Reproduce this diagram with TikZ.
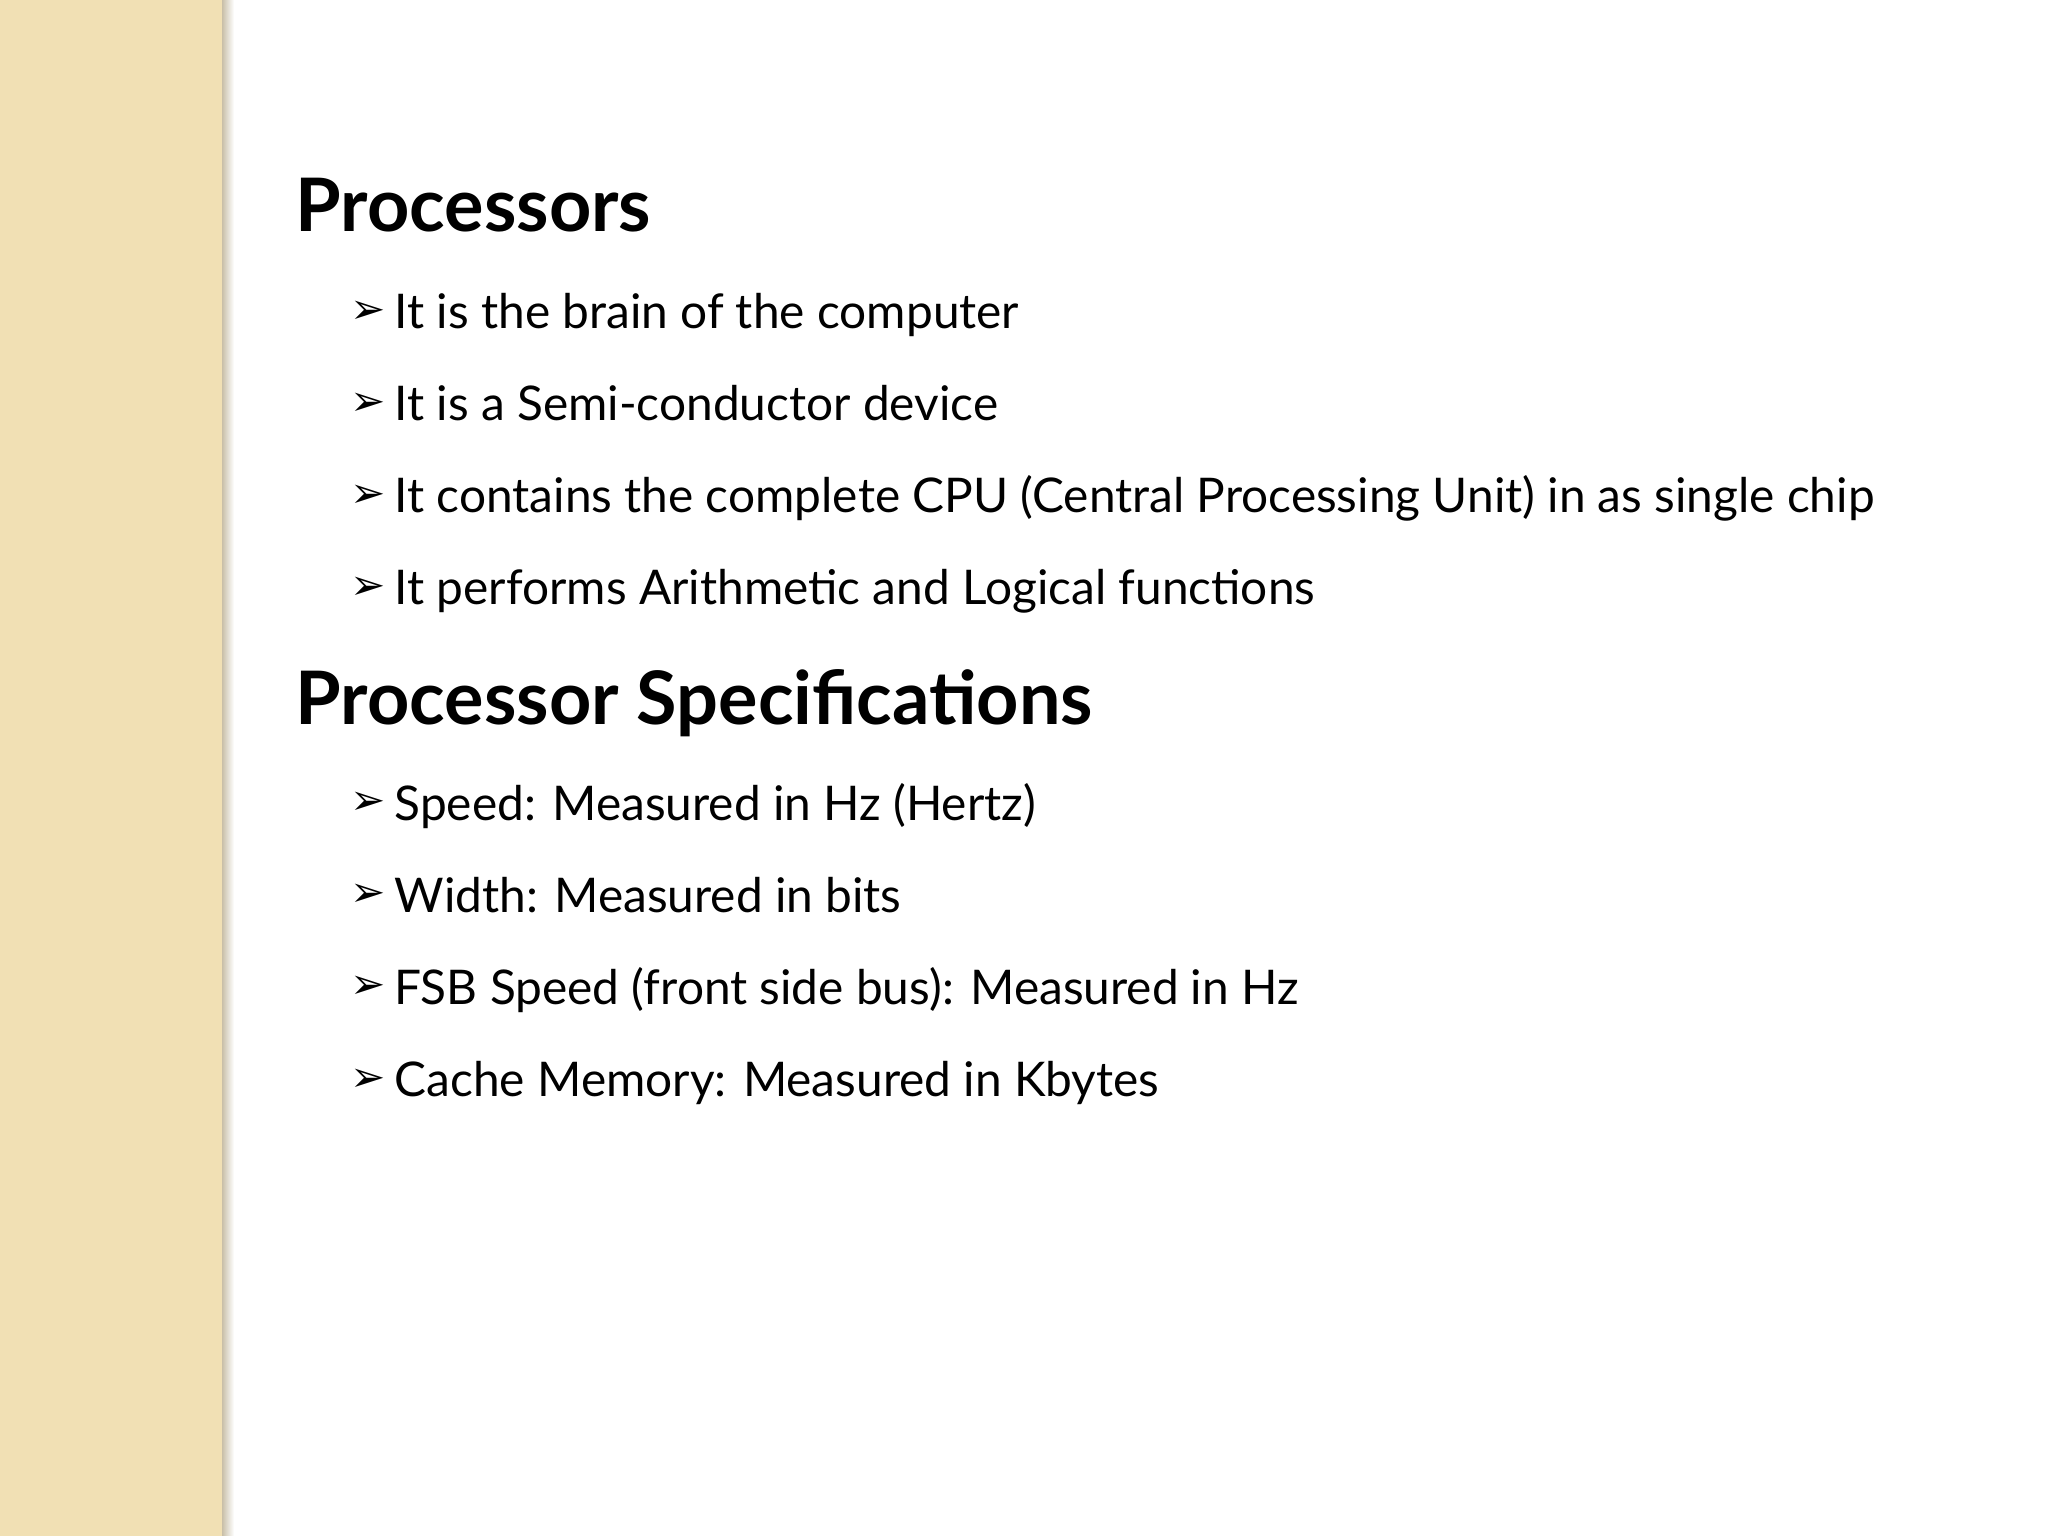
\documentclass[tikz,border=0pt]{standalone}
\usepackage{fontspec}
\setmainfont{Lato}
\newfontfamily\symfont{DejaVu Sans}
\definecolor{band}{HTML}{F1E0B4}
\definecolor{bandshadow}{HTML}{C9BFA8}
\begin{document}
\begin{tikzpicture}[x=1cm,y=1cm,
  head/.style={anchor=base west,inner sep=0pt,font=\fontsize{21}{25}\selectfont\bfseries},
  item/.style={anchor=base west,inner sep=0pt,font=\fontsize{13.6}{16}\selectfont},
  bul/.style={anchor=base west,inner sep=0pt,font=\symfont\fontsize{12}{14}\selectfont}]
\useasboundingbox (0,0) rectangle (20.48,-15.36);
\fill[white] (0,0) rectangle (20.48,-15.36);
\fill[band] (0,0) rectangle (2.22,-15.36);
\shade[left color=bandshadow,right color=white] (2.22,0) rectangle (2.34,-15.36);
\node[head] (h1) at (2.95,-2.32) {Processors};
\foreach \y/\t [count=\i] in {3.29/It is the brain of the computer,
  4.21/It is a Semi-conductor device,
  5.13/It contains the complete CPU (Central Processing Unit) in as single chip,
  6.05/It performs Arithmetic and Logical functions}{
  \node[bul] (b\i) at (3.50,-\y+0.05) {➢};
  \node[item] (t\i) at (3.94,-\y) {\t};
}
\node[head] (h2) at (2.95,-7.25) {Processor Specifications};
\foreach \y/\t [count=\i] in {8.20/Speed: Measured in Hz (Hertz),
  9.12/Width: Measured in bits,
  10.04/FSB Speed (front side bus): Measured in Hz,
  10.96/Cache Memory: Measured in Kbytes/Mbytes}{
  \node[bul] (c\i) at (3.50,-\y+0.05) {➢};
  \node[item] (s\i) at (3.94,-\y) {\t};
}
\end{tikzpicture}
\end{document}
